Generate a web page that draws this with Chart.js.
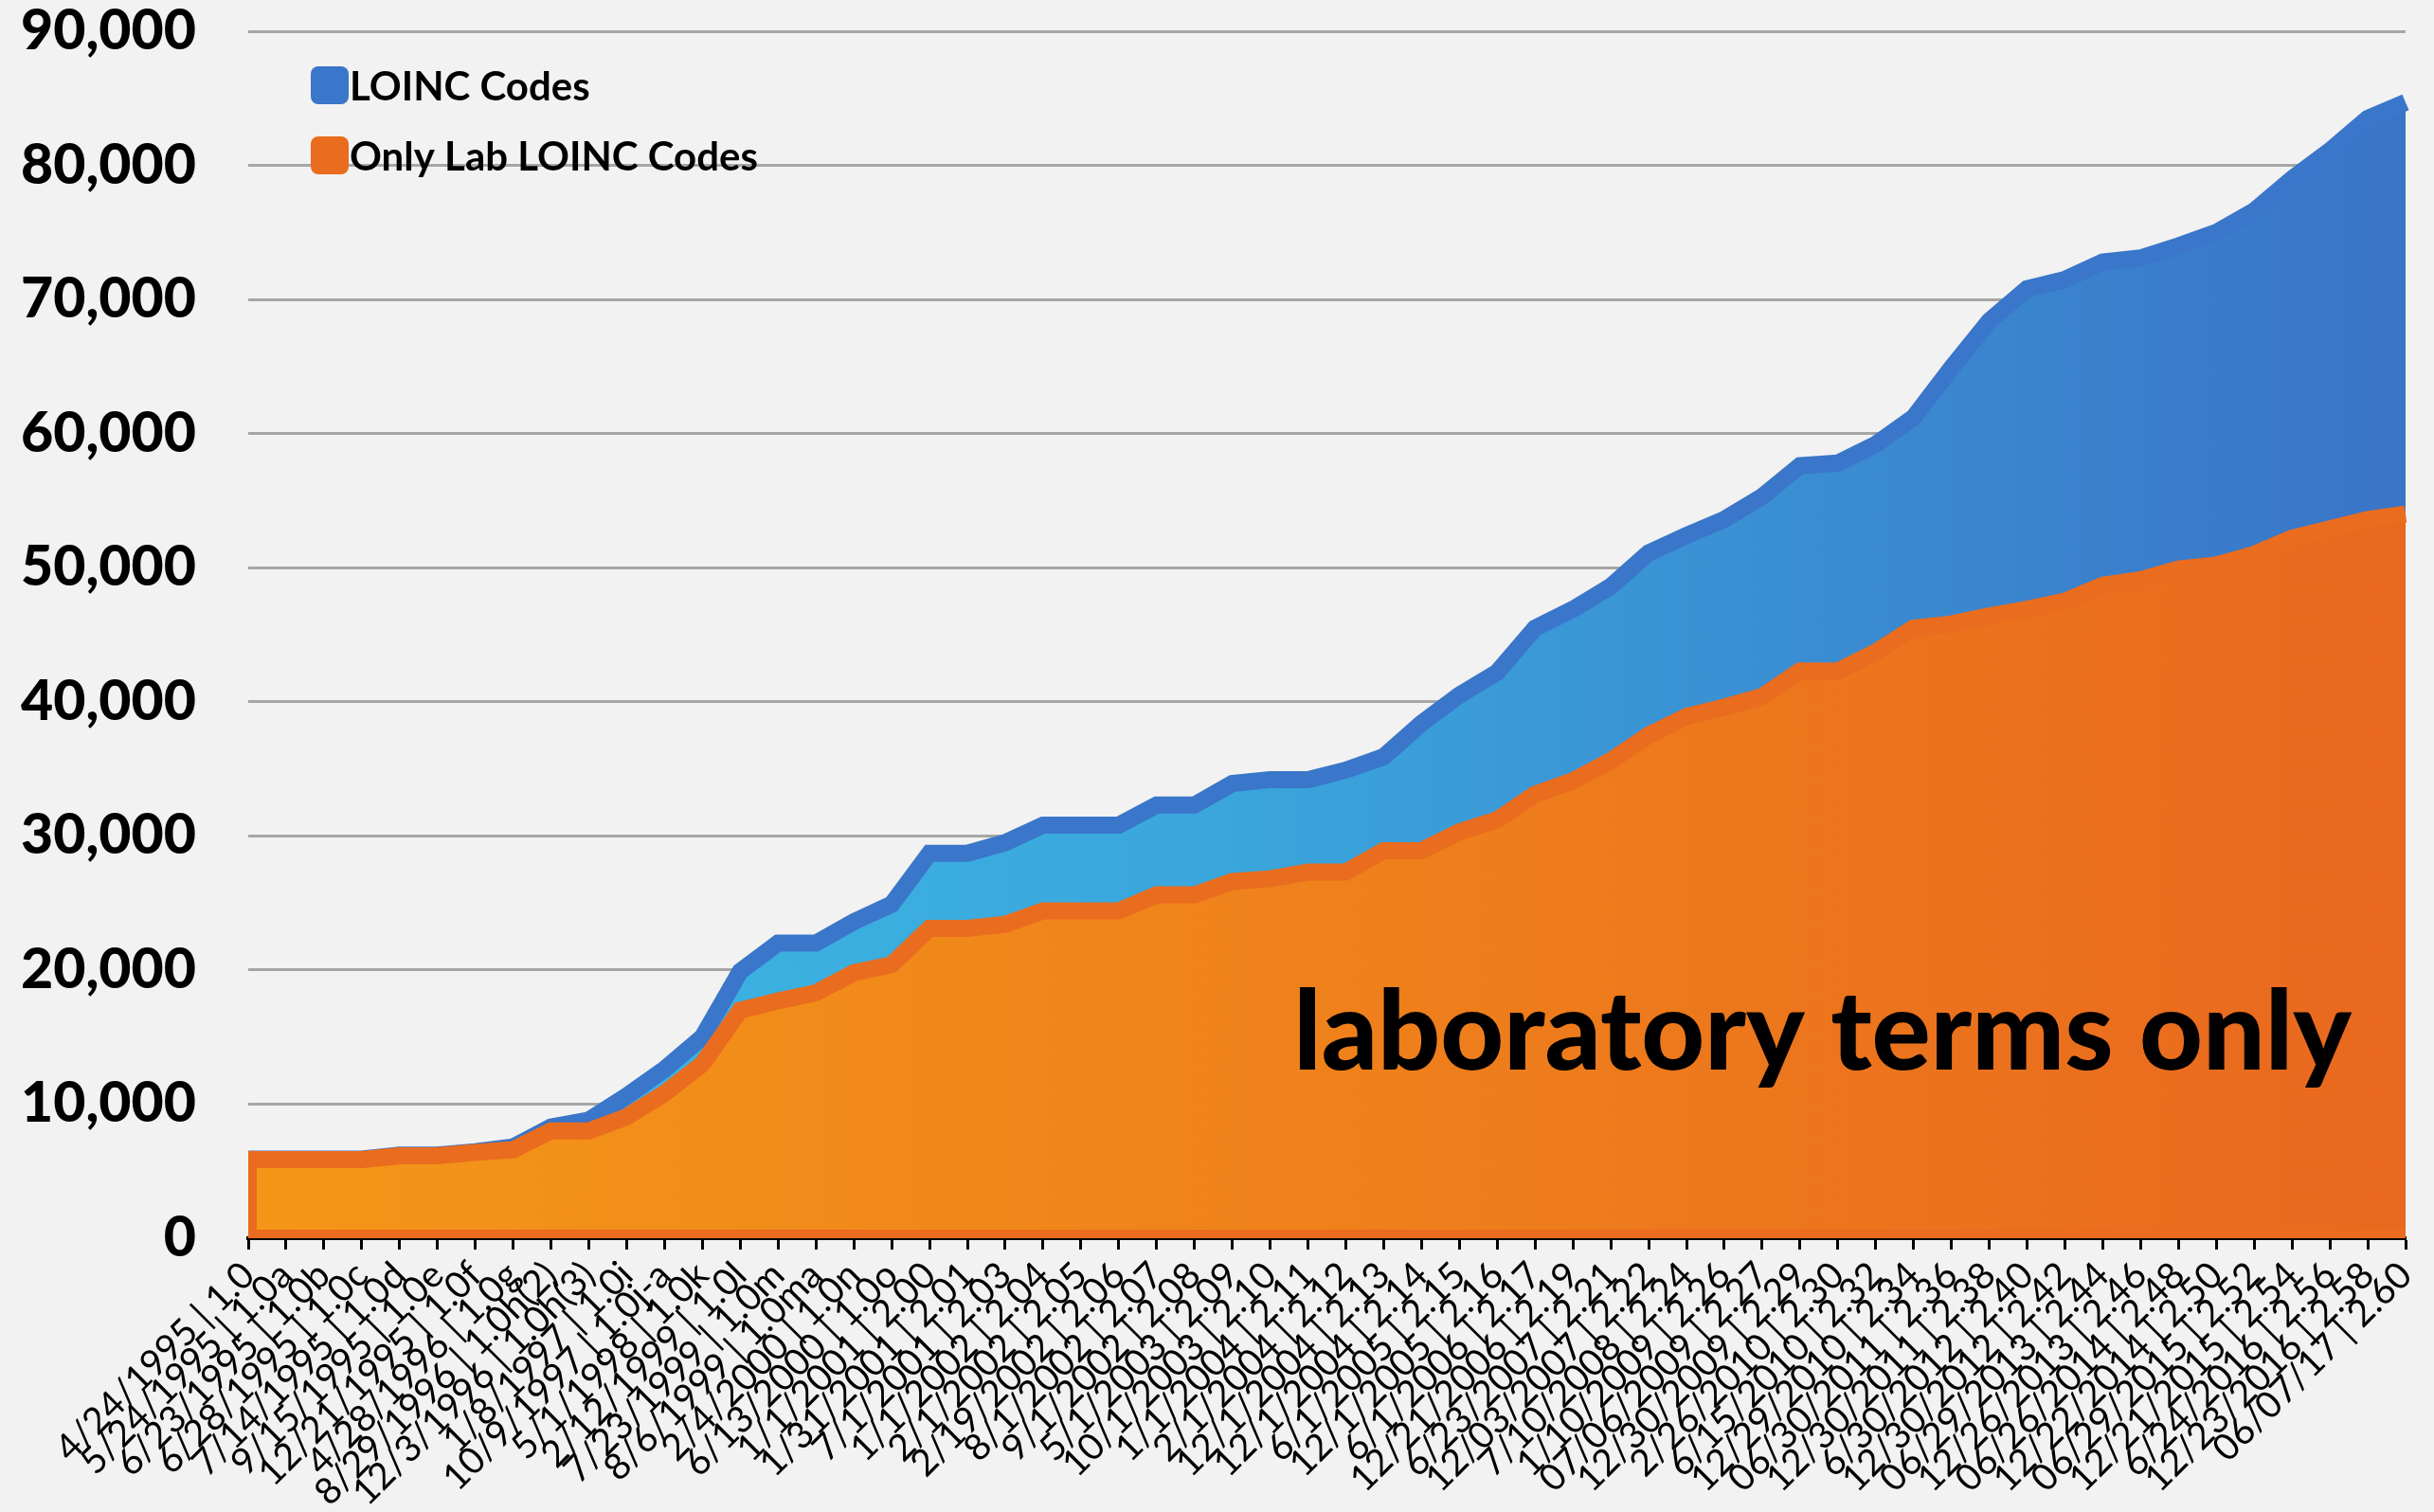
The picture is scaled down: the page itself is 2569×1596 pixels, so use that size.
<!DOCTYPE html>
<html><head><meta charset="utf-8">
<script src="https://cdn.jsdelivr.net/npm/chart.js@4.4.0/dist/chart.umd.min.js"></script>
<style>
html,body{margin:0;padding:0;background:#f2f2f2;}
#wrap{position:relative;width:2569px;height:1596px;background:#f2f2f2;}
canvas{display:block;}
</style></head><body>
<div id="wrap"><canvas id="c" width="2569" height="1596"></canvas></div>
<script>
const releaseDates = ['4/24/1995','5/24/1995','6/23/1995','6/28/1995','7/14/1995','9/15/1995','12/21/1995','4/28/1996','8/29/1996','12/3/1996',
  '1/8/1997','10/9/1997','5/1/1998','2/12/1999','7/23/1999','8/6/1999','2/4/2000','6/13/2000','1/1/2001','1/31/2001',
  '7/1/2001','1/1/2002','2/1/2002','2/19/2002','8/1/2002','9/1/2002','5/1/2003','10/1/2003','1/1/2004','2/1/2004',
  '12/1/2004','12/1/2004','6/1/2005','12/1/2005','6/1/2006','12/21/2006','6/23/2007','12/03/2007','7/10/2008','1/10/2009',
  '07/06/2009','12/30/2009','2/26/2010','6/15/2010','12/29/2010','06/30/2011','12/30/2011','6/30/2012','12/30/2012','06/29/2013',
  '12/26/2013','06/26/2014','12/22/2014','06/29/2015','12/21/2015','6/24/2016','12/23/2016','06/07/17'];
const versions = ['1.0','1.0a','1.0b','1.0c','1.0d','1.0e','1.0f','1.0g','1.0h(2)','1.0h(3)',
  '1.0i','1.0j-a','1.0k','1.0l','1.0m','1.0ma','1.0n','1.0o','2.00','2.01',
  '2.03','2.04','2.05','2.06','2.07','2.08','2.09','2.10','2.11','2.12',
  '2.13','2.14','2.15','2.16','2.17','2.19','2.21','2.22','2.24','2.26',
  '2.27','2.29','2.30','2.32','2.34','2.36','2.38','2.40','2.42','2.44',
  '2.46','2.48','2.50','2.52','2.54','2.56','2.58','2.60'];
const loincCodes = [5900,5900,5900,5900,6200,6200,6450,6800,8300,8800,
  10600,12600,15000,19900,22000,22000,23600,24900,28700,28700,
  29500,30800,30800,30800,32300,32300,33900,34200,34200,34900,
  35900,38400,40500,42200,45500,46900,48600,51100,52400,53600,
  55300,57600,57800,59200,61200,64900,68400,70800,71500,72800,
  73100,74000,75000,76600,79000,81100,83500,84700];
const labLoincCodes = [5860,5860,5860,5860,6150,6150,6400,6600,8000,8000,
  9050,10800,13000,17000,17700,18300,19800,20400,23100,23100,
  23400,24400,24400,24400,25600,25600,26600,26800,27300,27300,
  28900,28900,30300,31200,33100,34100,35600,37500,38900,39600,
  40400,42300,42300,43700,45500,45800,46400,46900,47500,48700,
  49100,49900,50200,51000,52200,52900,53600,54000];
const yTickValues = [0,10000,20000,30000,40000,50000,60000,70000,80000,90000];
const seriesNames = ['LOINC Codes','Only Lab LOINC Codes'];
const annotationText = 'laboratory terms only';

const categoryLabels = releaseDates.map((d,i)=>d+' | '+versions[i]);

const HEAVY = "'Lato Black', 'Lato Heavy', Lato";
const BLUE_LINE = '#3a76c9', ORANGE_LINE = '#ea6c1e';
function hGrad(ctx, stops, fallback){
  const chart = ctx.chart, a = chart.chartArea;
  if(!a) return fallback;
  const g = chart.ctx.createLinearGradient(a.left,0,a.right,0);
  stops.forEach(s=>g.addColorStop(s[0],s[1]));
  return g;
}

const outlinePlugin = {
  id:'areaOutline',
  afterDatasetsDraw(chart){
    const {ctx, chartArea:a, scales:{x,y}} = chart;
    ctx.save();
    ctx.beginPath(); ctx.rect(a.left,a.top,a.right-a.left,a.bottom-a.top); ctx.clip();
    ctx.strokeStyle = ORANGE_LINE; ctx.lineWidth = 18; ctx.lineJoin='miter';
    ctx.beginPath();
    ctx.moveTo(x.getPixelForValue(0), y.getPixelForValue(labLoincCodes[0]));
    ctx.lineTo(x.getPixelForValue(0), y.getPixelForValue(0));
    ctx.lineTo(x.getPixelForValue(labLoincCodes.length-1), y.getPixelForValue(0));
    ctx.stroke();
    ctx.restore();
  }
};

const textPlugin = {
  id:'insideText',
  afterDraw(chart){
    const {ctx, chartArea:a} = chart;
    ctx.save();
    const items = [[seriesNames[0], BLUE_LINE],[seriesNames[1], ORANGE_LINE]];
    items.forEach((it,i)=>{
      const bx = a.left+66, cy = a.top+57+i*74, s = 40;
      ctx.fillStyle = it[1];
      ctx.beginPath();
      ctx.roundRect(bx, cy-s/2, s, s, 8);
      ctx.fill();
      ctx.fillStyle = '#000';
      ctx.font = 'bold 42px Lato';
      ctx.textBaseline = 'middle';
      ctx.textAlign = 'left';
      ctx.fillText(it[0], bx+s+1, cy+2);
    });
    ctx.font = '900 116px ' + HEAVY;
    ctx.fillStyle = '#000';
    ctx.textAlign = 'right';
    ctx.textBaseline = 'alphabetic';
    ctx.fillText(annotationText, a.right-57, a.bottom-178);
    ctx.restore();
  }
};

new Chart(document.getElementById('c'), {
  type:'line',
  data:{
    labels: categoryLabels,
    datasets:[
      {label:seriesNames[0], data:loincCodes, order:1, fill:'origin',
       borderColor:BLUE_LINE, borderWidth:18, pointRadius:0, tension:0, borderJoinStyle:'miter',
       backgroundColor:(c)=>hGrad(c,[[0,'#3dbce6'],[0.45,'#3aa6dc'],[1,'#3a74c7']],'#3aa6dc')},
      {label:seriesNames[1], data:labLoincCodes, order:0, fill:'origin',
       borderColor:ORANGE_LINE, borderWidth:18, pointRadius:0, tension:0, borderJoinStyle:'miter',
       backgroundColor:(c)=>hGrad(c,[[0,'#f49618'],[0.5,'#ef811b'],[1,'#e9681f']],'#ef811b')}
    ]
  },
  options:{
    responsive:false, animation:false, devicePixelRatio:1,
    layout:{padding:{left:22,right:30,top:33,bottom:0}},
    plugins:{legend:{display:false}, tooltip:{enabled:false}},
    scales:{
      x:{type:'category', offset:false,
         afterFit(axis){ axis.paddingLeft = 0; axis.paddingRight = 0; axis.height = 289; },
         ticks:{autoSkip:false, maxRotation:45, minRotation:45, color:'#000', padding:4,
                font:{family:'Lato', size:39, weight:'normal'}},
         grid:{drawOnChartArea:false, drawTicks:true, tickLength:12, tickWidth:3, tickColor:'#000'},
         border:{display:true, color:'#000', width:4}},
      y:{min:0, max:90000,
         afterBuildTicks(axis){ axis.ticks = yTickValues.map(v=>({value:v})); },
         afterFit(axis){ axis.paddingTop = 0; axis.paddingBottom = 0; axis.width = 240; },
         ticks:{color:'#000', padding:55, font:{family:HEAVY, size:59, weight:'900'},
                callback:(v)=>Number(v).toLocaleString('en-US')},
         grid:{color:'#a6a6a6', lineWidth:3, drawTicks:false},
         border:{display:false}}
    }
  },
  plugins:[outlinePlugin, textPlugin]
});
</script>
</body></html>
